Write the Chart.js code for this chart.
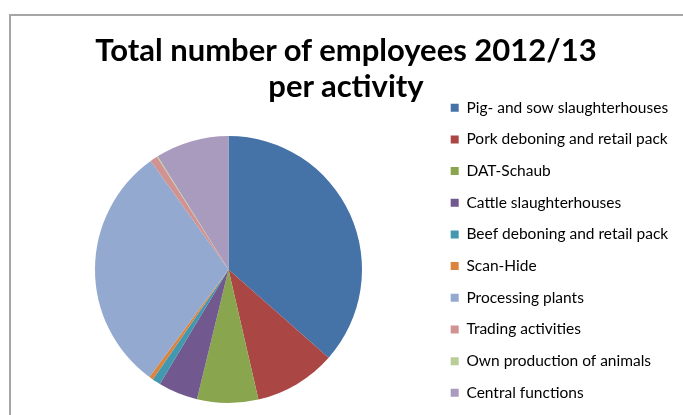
<!DOCTYPE html>
<html>
<head>
<meta charset="utf-8">
<script src="https://cdn.jsdelivr.net/npm/chart.js@4"></script>
<style>
  html, body { margin: 0; padding: 0; background: #fff; overflow: hidden; width: 683px; height: 415px; }
  #frame {
    position: absolute; left: 9px; top: 14px; width: 720px; height: 460px;
    border-left: 2px solid #a6a6a6; border-top: 2px solid #a6a6a6;
  }
  #title {
    position: absolute; left: 9px; top: 31px; width: 674px;
    text-align: center; font: bold 31px Lato, sans-serif; line-height: 36px; color: #000;
  }
  #wrap { position: absolute; left: 0; top: 0; width: 683px; height: 470px; }
</style>
</head>
<body>
<div id="frame"></div>
<div id="wrap"><canvas id="myChart" width="683" height="470"></canvas></div>
<div id="title">Total number of employees 2012/13<br>per activity</div>
<script>
// share of employees per activity, in percent
const activities = [
  "Pig- and sow slaughterhouses",
  "Pork deboning and retail pack",
  "DAT-Schaub",
  "Cattle slaughterhouses",
  "Beef deboning and retail pack",
  "Scan-Hide",
  "Processing plants",
  "Trading activities",
  "Own production of animals",
  "Central functions"
];
const sharePct = [36.5, 9.9, 7.4, 4.8, 1.0, 0.5, 30.0, 0.9, 0.1, 8.9];
const sliceColors = [
  "#4572A7", "#AA4643", "#89A54E", "#71588F", "#4198AF",
  "#DB843D", "#93A9CF", "#D19392", "#B9CD96", "#A99BBD"
];

// legend metrics
const FONT_SIZE = 15.5;
const FONT_FAMILY = "Lato, sans-serif";
const BOX = 8;
const ROW = 31.68;            // distance between legend rows
const ITEM_GAP = ROW - FONT_SIZE;
const FIRST_ROW_Y = 107.7;    // centre of the first legend row

// pie centre and radius on the page
const PIE_X = 228.5, PIE_Y = 269.5, PIE_R = 133.5;
const LEGEND_LEFT = 450.7 - ITEM_GAP;
const W = 683, H = 470;

// work out how wide the legend will be so its left edge lands where we want
const m = document.createElement("canvas").getContext("2d");
m.font = FONT_SIZE + "px " + FONT_FAMILY;
const maxText = Math.max(...activities.map(a => m.measureText(a).width));
const legendWidth = ITEM_GAP + BOX + FONT_SIZE / 2 + maxText + 10;

// the legend starts at the top of the chart area, the pie sits in its middle
const areaTop = FIRST_ROW_Y - FONT_SIZE / 2 - ITEM_GAP;
const areaBottom = 2 * PIE_Y - areaTop;

let ctx = document.getElementById("myChart").getContext("2d");
let myChart = new Chart(ctx, {
  type: "pie",
  data: {
    labels: activities,
    datasets: [{
      data: sharePct,
      backgroundColor: sliceColors,
      borderWidth: 0,
      radius: PIE_R
    }]
  },
  options: {
    responsive: false,
    animation: false,
    layout: {
      padding: {
        top: areaTop,
        bottom: H - areaBottom,
        left: 2 * PIE_X - LEGEND_LEFT,
        right: W - LEGEND_LEFT - legendWidth
      }
    },
    plugins: {
      tooltip: { enabled: false },
      legend: {
        position: "right",
        align: "start",
        labels: {
          boxWidth: BOX,
          boxHeight: BOX,
          padding: ITEM_GAP,
          color: "#000",
          font: { size: FONT_SIZE, family: FONT_FAMILY }
        }
      }
    }
  }
});
</script>
</body>
</html>
